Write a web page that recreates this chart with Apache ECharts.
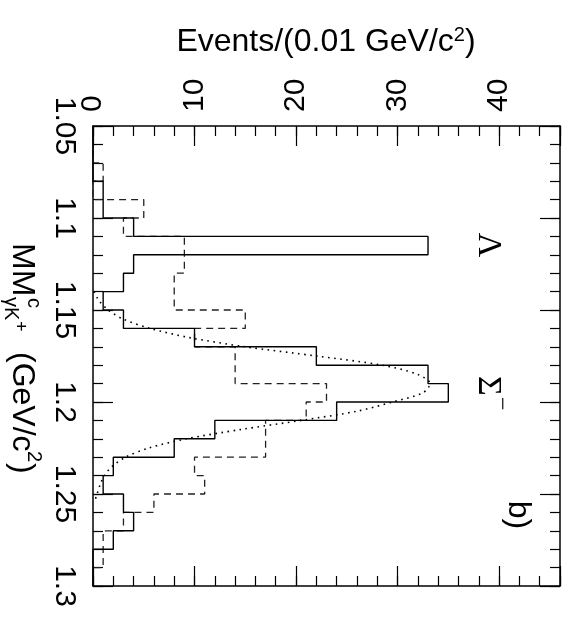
<!DOCTYPE html>
<html>
<head>
<meta charset="utf-8">
<script src="https://cdn.jsdelivr.net/npm/echarts@6.0.0/dist/echarts.min.js"></script>
<style>
html, body { margin: 0; padding: 0; background: #fff; }
#chart { width: 571px; height: 626px; }
</style>
</head>
<body>
<div id="chart"></div>
<script>
// bin edges of the missing mass axis (GeV/c^2)
var binEdges = [1.05, 1.06, 1.07, 1.08, 1.09, 1.10, 1.11, 1.12, 1.13, 1.14, 1.15, 1.16, 1.17,
	1.18, 1.19, 1.20, 1.21, 1.22, 1.23, 1.24, 1.25, 1.26, 1.27, 1.28, 1.29, 1.30];
// events per bin, solid and dashed histograms
var solidCounts = [0, 0, 0, 1, 1, 4, 33, 4, 3, 1, 3, 10, 22, 33, 35, 24, 12, 8, 2, 1, 3, 4, 2, 0, 0];
var dashedCounts = [0, 0, 1, 0, 5, 3, 9, 9, 8, 8, 15, 10, 14, 14, 23, 21, 17, 17, 10, 11, 6, 3, 1, 1, 0];
// dotted fit curve
var fitMass = [1.140, 1.145, 1.150, 1.155, 1.160, 1.165, 1.170, 1.175, 1.180, 1.185, 1.190, 1.195,
	1.200, 1.205, 1.210, 1.215, 1.220, 1.225, 1.230, 1.235, 1.240, 1.245, 1.250, 1.255];
var fitEvents = [0.1, 0.6, 1.5, 3, 5.6, 9.5, 15, 22, 28.5, 32, 33.2, 32.5,
	29.5, 26, 20.5, 14.5, 9.2, 5.5, 3.2, 1.9, 1.1, 0.7, 0.4, 0.1];
// tick labels
var massTicks = [1.05, 1.1, 1.15, 1.2, 1.25, 1.3];
var eventTicks = [0, 10, 20, 30, 40];

var sans = 'Liberation Sans, Arial, Helvetica, sans-serif';
var serif = 'Liberation Serif, DejaVu Serif, serif';
var ROT = -Math.PI / 2; // everything is turned a quarter clockwise

//histogram outline as [events, mass] pairs
function stepData(counts) {
	var d = [[0, binEdges[0]]];
	for(var i = 0; i < counts.length; i++) {
		d.push([counts[i], binEdges[i]]);
		d.push([counts[i], binEdges[i + 1]]);
	}
	d.push([0, binEdges[binEdges.length - 1]]);
	return d;
}

var fitData = [];
for(var i = 0; i < fitMass.length; i++) {
	fitData.push([fitEvents[i], fitMass[i]]);
}

function eventAxis(pos, interval, len, labels, line) {
	return {
		type: 'value',
		position: pos,
		min: 0,
		max: 46,
		interval: interval,
		axisLine: {
			show: line,
			onZero: false,
			lineStyle: { color: '#000', width: 1.5 }
		},
		axisTick: {
			show: true,
			inside: true,
			length: len,
			lineStyle: { color: '#000', width: 1.2 }
		},
		axisLabel: {
			show: labels,
			rotate: -90,
			margin: 14,
			color: '#000',
			fontSize: 30,
			fontFamily: sans,
			formatter: function(v) {
				return eventTicks.indexOf(Math.round(v)) >= 0 && Math.abs(v - Math.round(v)) < 1e-6 ? String(Math.round(v)) : '';
			}
		},
		splitLine: { show: false }
	};
}

function massAxis(pos, interval, len, labels, line) {
	return {
		type: 'value',
		position: pos,
		inverse: true,
		min: 1.05,
		max: 1.3,
		interval: interval,
		axisLine: {
			show: line,
			onZero: false,
			lineStyle: { color: '#000', width: 1.5 }
		},
		axisTick: {
			show: true,
			inside: true,
			length: len,
			lineStyle: { color: '#000', width: 1.2 }
		},
		axisLabel: {
			show: labels,
			rotate: -90,
			margin: 14,
			color: '#000',
			fontSize: 30,
			fontFamily: sans,
			formatter: function(v) {
				var r = parseFloat(v.toFixed(2));
				return massTicks.indexOf(r) >= 0 ? String(r) : '';
			}
		},
		splitLine: { show: false }
	};
}

var myChart = echarts.init(document.getElementById('chart'));
myChart.setOption({
	animation: false,
	backgroundColor: '#fff',
	grid: {
		left: 93,
		right: 11,
		top: 126,
		bottom: 40,
		containLabel: false
	},
	xAxis: [
		eventAxis('top', 2, 10, false, true),
		eventAxis('top', 10, 20, true, false),
		eventAxis('bottom', 2, 10, false, true),
		eventAxis('bottom', 10, 20, false, false)
	],
	yAxis: [
		massAxis('left', 0.01, 10, false, true),
		massAxis('left', 0.05, 20, true, false),
		massAxis('right', 0.01, 10, false, true),
		massAxis('right', 0.05, 20, false, false)
	],
	series: [{
		type: 'line',
		name: 'dashed',
		data: stepData(dashedCounts),
		symbol: 'none',
		lineStyle: { color: '#222', width: 1.3, type: [7, 5] },
		z: 2
	}, {
		type: 'line',
		name: 'solid',
		data: stepData(solidCounts),
		symbol: 'none',
		lineStyle: { color: '#000', width: 1.4, type: 'solid' },
		z: 3
	}, {
		type: 'line',
		name: 'fit',
		data: fitData,
		symbol: 'none',
		smooth: 0.3,
		lineStyle: { color: '#000', width: 1.6, type: [1.6, 4.5] },
		z: 4
	}],
	graphic: [{
		type: 'text',
		x: 326,
		y: 42,
		style: {
			text: 'Events/(0.01 GeV/c{sup|2})',
			fontSize: 32,
			fontFamily: sans,
			fill: '#000',
			align: 'center',
			verticalAlign: 'middle',
			rich: {
				sup: { fontSize: 20, fontFamily: sans, verticalAlign: 'top', padding: [0, 0, 14, 0] }
			}
		}
	}, {
		// x axis title, turned
		type: 'group',
		x: 22,
		y: 243,
		rotation: ROT,
		children: [
			{ type: 'text', x: 0, y: 0, style: { text: 'MM', fontSize: 32, fontFamily: sans, fill: '#000', align: 'left', verticalAlign: 'middle' } },
			{ type: 'text', x: 55, y: -12, style: { text: 'c', fontSize: 20, fontFamily: sans, fill: '#000', align: 'left', verticalAlign: 'middle' } },
			{ type: 'text', x: 54, y: 11, style: { text: 'γK', fontSize: 20, fontFamily: sans, fill: '#000', align: 'left', verticalAlign: 'middle' } },
			{ type: 'text', x: 78, y: 2, style: { text: '+', fontSize: 18, fontFamily: sans, fill: '#000', align: 'left', verticalAlign: 'middle' } },
			{ type: 'text', x: 109, y: 0, style: { text: '(GeV/c', fontSize: 32, fontFamily: sans, fill: '#000', align: 'left', verticalAlign: 'middle' } },
			{ type: 'text', x: 208, y: -12, style: { text: '2', fontSize: 20, fontFamily: sans, fill: '#000', align: 'left', verticalAlign: 'middle' } },
			{ type: 'text', x: 220, y: 0, style: { text: ')', fontSize: 32, fontFamily: sans, fill: '#000', align: 'left', verticalAlign: 'middle' } }
		]
	}, {
		type: 'text',
		x: 488,
		y: 245,
		rotation: ROT,
		style: { text: 'Λ', fontSize: 34, fontFamily: serif, fill: '#000', align: 'center', verticalAlign: 'middle' }
	}, {
		type: 'group',
		x: 488,
		y: 386,
		rotation: ROT,
		children: [
			{ type: 'text', x: 0, y: 0, style: { text: 'Σ', fontSize: 34, fontFamily: serif, fill: '#000', align: 'center', verticalAlign: 'middle' } },
			{ type: 'text', x: 11, y: -13, style: { text: '−', fontSize: 24, fontFamily: serif, fill: '#000', align: 'left', verticalAlign: 'middle' } }
		]
	}, {
		type: 'text',
		x: 518,
		y: 515,
		rotation: ROT,
		style: { text: 'b)', fontSize: 32, fontFamily: sans, fill: '#000', align: 'center', verticalAlign: 'middle' }
	}]
});
</script>
</body>
</html>
